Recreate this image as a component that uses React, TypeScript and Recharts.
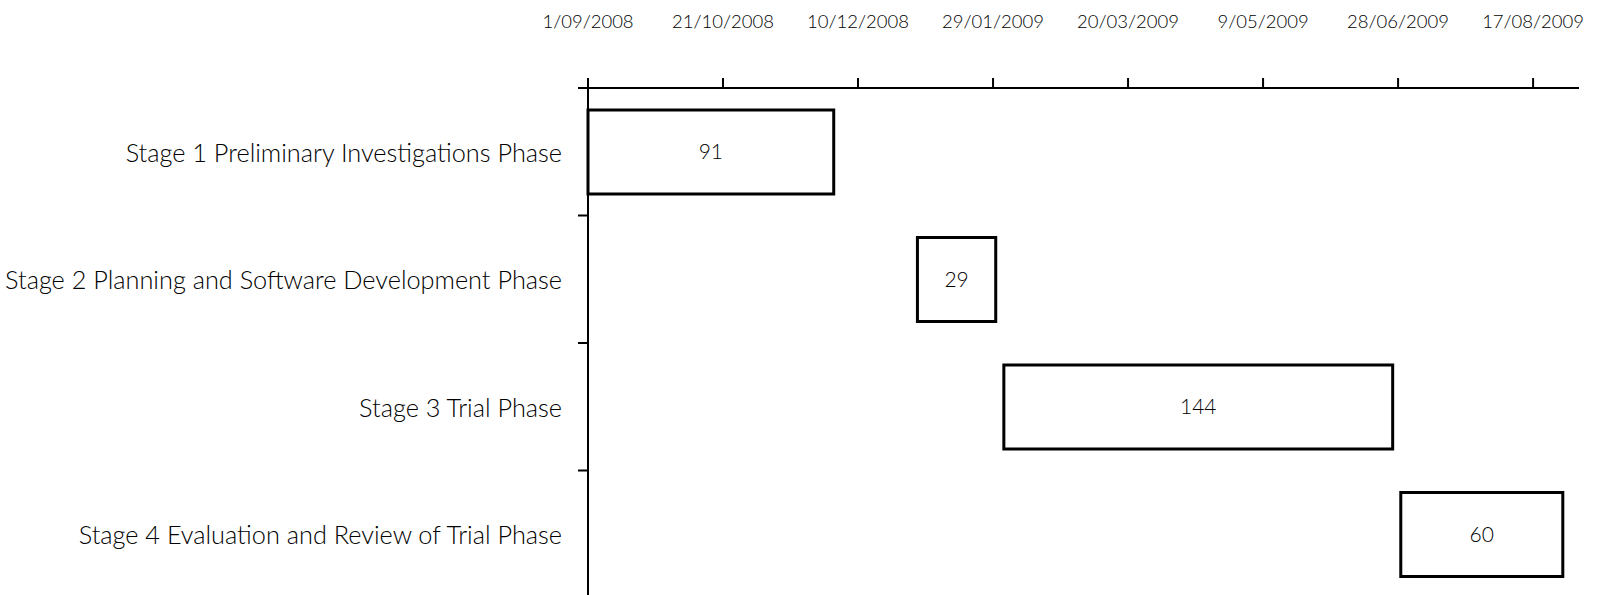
import { BarChart, Bar, XAxis, YAxis, LabelList } from "recharts";

const CATEGORIES = [
  "Stage 1 Preliminary Investigations Phase",
  "Stage 2 Planning and Software Development Phase",
  "Stage 3 Trial Phase",
  "Stage 4 Evaluation and Review of Trial Phase",
];
// days since 1/09/2008
const START_DAYS = [0, 122, 154, 301];
const DURATIONS = [91, 29, 144, 60];

const TICK_DAYS = [0, 50, 100, 150, 200, 250, 300, 350];
const TICK_LABELS = [
  "1/09/2008",
  "21/10/2008",
  "10/12/2008",
  "29/01/2009",
  "20/03/2009",
  "9/05/2009",
  "28/06/2009",
  "17/08/2009",
];

const data = CATEGORIES.map((name, i) => ({
  name,
  start: START_DAYS[i],
  duration: DURATIONS[i],
}));

const FONT = "Lato, 'Open Sans', sans-serif";
const TICK_LEN = 10;
const TICK_GAP = 16;

function StageTick(props: any) {
  const { x, y, payload } = props;
  const half = payload.offset ?? 0;
  return (
    <g>
      <line
        x1={x + TICK_GAP}
        x2={x + TICK_GAP + TICK_LEN}
        y1={y - half}
        y2={y - half}
        stroke="#000"
        strokeWidth={2}
      />
      <text
        x={x}
        y={y}
        textAnchor="end"
        dominantBaseline="central"
        fontFamily={FONT}
        fontSize={25.3}
        fontWeight={300}
        fill="#000"
      >
        {payload.value}
      </text>
    </g>
  );
}

export default function App() {
  return (
    <div
      style={{
        position: "absolute",
        left: 0,
        top: 0,
        width: 1602,
        height: 595,
        overflow: "hidden",
        background: "#fff",
      }}
    >
      <BarChart
        width={1602}
        height={612}
        data={data}
        layout="vertical"
        margin={{ top: 28, right: 23, left: 0, bottom: 14 }}
        barSize={84}
      >
        <XAxis
          type="number"
          orientation="top"
          domain={[0, 367]}
          ticks={TICK_DAYS}
          tickFormatter={(v: number) => TICK_LABELS[TICK_DAYS.indexOf(v)] ?? ""}
          height={60}
          axisLine={{ stroke: "#000", strokeWidth: 2 }}
          tickLine={{ stroke: "#000", strokeWidth: 2 }}
          tickSize={TICK_LEN}
          tickMargin={50}
          tick={{ fill: "#000", fontSize: 18.5, fontFamily: FONT, fontWeight: 300 }}
          interval={0}
        />
        <YAxis
          type="category"
          dataKey="name"
          width={588}
          axisLine={{ stroke: "#000", strokeWidth: 2 }}
          tickLine={false}
          tickSize={TICK_LEN}
          tickMargin={TICK_GAP}
          tick={<StageTick />}
          interval={0}
        />
        <Bar dataKey="start" stackId="g" fill="transparent" isAnimationActive={false} />
        <Bar
          dataKey="duration"
          stackId="g"
          fill="#fff"
          stroke="#000"
          strokeWidth={3}
          isAnimationActive={false}
        >
          <LabelList
            dataKey="duration"
            position="center"
            fill="#000"
            fontSize={21}
            fontWeight={300}
            fontFamily={FONT}
          />
        </Bar>
      </BarChart>
    </div>
  );
}
